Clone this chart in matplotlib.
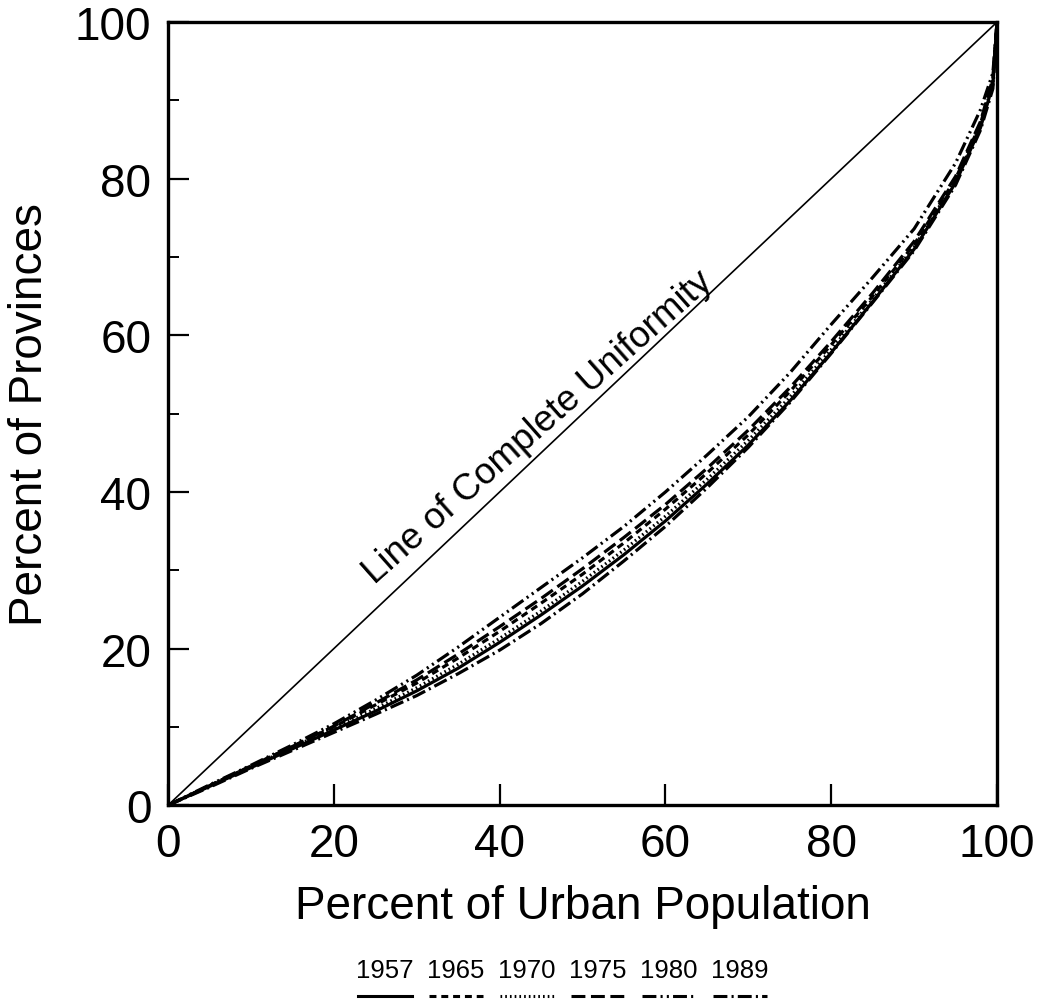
import matplotlib.pyplot as plt
from matplotlib.lines import Line2D
from matplotlib.ticker import MultipleLocator

plt.rcParams["font.family"] = ["Liberation Sans", "DejaVu Sans"]
plt.rcParams["lines.scale_dashes"] = False

# cumulative percent of urban population (x) vs cumulative percent of provinces (y)
urban_pct = [0, 5, 10, 15, 20, 25, 30, 35, 40, 45, 50, 55, 60, 65, 70, 75, 80, 85, 90, 95, 98, 99.5, 100]

prov_1957 = [0, 2.4, 4.8, 7.2, 9.6, 12.0, 14.6, 17.5, 20.8, 24.3, 28.0, 32.0, 36.3, 41.0, 46.0, 51.6, 57.8, 64.3, 71.0, 79.5, 86.5, 92.0, 100]
prov_1965 = [0, 2.5, 5.0, 7.5, 10.0, 12.8, 15.6, 18.8, 22.2, 25.8, 29.5, 33.5, 37.8, 42.4, 47.3, 52.8, 58.8, 65.0, 71.6, 80.0, 87.0, 92.5, 100]
prov_1970 = [0, 2.5, 4.9, 7.4, 9.8, 12.3, 15.0, 18.0, 21.3, 24.8, 28.6, 32.6, 36.9, 41.6, 46.6, 52.1, 58.2, 64.6, 71.3, 79.8, 86.8, 92.2, 100]
prov_1975 = [0, 2.5, 5.0, 7.5, 10.1, 13.0, 16.0, 19.3, 22.8, 26.4, 30.2, 34.2, 38.4, 43.0, 47.9, 53.3, 59.2, 65.4, 72.0, 80.3, 87.3, 92.8, 100]
prov_1980 = [0, 2.6, 5.1, 7.7, 10.4, 13.4, 16.6, 20.2, 24.0, 27.8, 31.6, 35.6, 40.0, 44.7, 49.6, 55.2, 61.4, 67.4, 73.6, 82.0, 88.8, 93.5, 100]
prov_1989 = [0, 2.3, 4.7, 7.0, 9.3, 11.6, 14.0, 16.8, 19.8, 23.2, 27.0, 31.2, 35.6, 40.5, 45.7, 51.4, 57.7, 64.2, 70.8, 79.2, 86.2, 91.5, 100]

years = ["1957", "1965", "1970", "1975", "1980", "1989"]
series = [prov_1957, prov_1965, prov_1970, prov_1975, prov_1980, prov_1989]
styles = [
    "-",
    (0, (5, 3.5)),
    (0, (1.2, 2.2)),
    (0, (10, 4)),
    (0, (10, 3, 1.5, 3, 1.5, 3)),
    (0, (10, 3, 1.5, 3)),
]

fig = plt.figure(figsize=(10.44, 10.04), dpi=100)
ax = fig.add_axes([0.161, 0.197, 0.794, 0.78])

ax.plot([0, 100], [0, 100], color="black", linewidth=1.2)
for values, style in zip(series, styles):
    ax.plot(urban_pct, values, color="black", linewidth=2.3, linestyle=style)

ax.text(44.6, 48.3, "Line of Complete Uniformity", fontsize=26.5,
        rotation=41.5, ha="center", va="center", rotation_mode="anchor")

ax.set_xlim(0, 100)
ax.set_ylim(0, 100)
ax.xaxis.set_major_locator(MultipleLocator(20))
ax.yaxis.set_major_locator(MultipleLocator(20))
ax.yaxis.set_minor_locator(MultipleLocator(10))
ax.tick_params(axis="both", which="major", direction="in", length=15, width=1.6,
               labelsize=33)
ax.tick_params(axis="y", which="minor", direction="in", length=8, width=1.4)
ax.tick_params(axis="x", which="major", pad=12)
ax.tick_params(axis="y", which="major", pad=12)
for spine in ax.spines.values():
    spine.set_linewidth(2.4)

ax.set_xlabel("Percent of Urban Population", fontsize=33)
ax.set_ylabel("Percent of Provinces", fontsize=33)
ax.xaxis.set_label_coords(0.5, -0.1)
ax.yaxis.set_label_coords(-0.14, 0.5)

# legend row: year labels with a sample of each line style underneath
legend_x = [385, 456, 527, 598, 669, 740]
for xc, year, style in zip(legend_x, years, styles):
    fig.text(xc / 1044, 1 - 971 / 1004, year, fontsize=18.5, ha="center", va="center")
    fig.add_artist(Line2D([(xc - 27) / 1044, (xc + 27) / 1044],
                          [1 - 997 / 1004, 1 - 997 / 1004],
                          color="black", linewidth=2.2, linestyle=style))

fig.savefig("out.png", dpi=100)
